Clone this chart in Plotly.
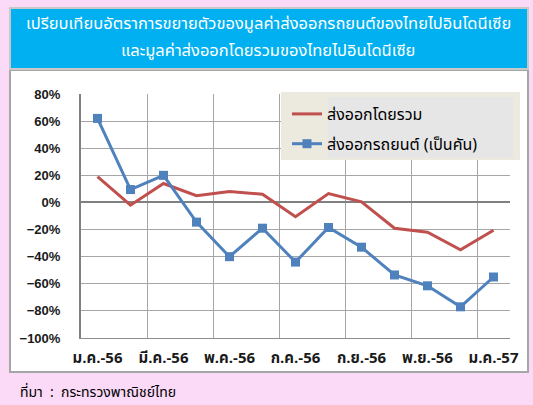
import plotly.graph_objects as go

months = ["ม.ค.-56", "ก.พ.-56", "มี.ค.-56", "เม.ย.-56", "พ.ค.-56", "มิ.ย.-56", "ก.ค.-56",
          "ส.ค.-56", "ก.ย.-56", "ต.ค.-56", "พ.ย.-56", "ธ.ค.-56", "ม.ค.-57"]
total_exports = [19, -2, 14, 5, 8, 6, -10.5, 6.5, 0.5, -19, -22, -35, -20.5]
car_exports = [62, 9.5, 20, -14.5, -40, -19, -44, -18.5, -33, -53.5, -61.5, -77, -55]
label_every = 2

W, H = 533, 405
L, R, T, B = 81, 510, 94, 338

def px(x):
    return (x - L) / (R - L)

def py(y):
    return (B - y) / (B - T)

xs = list(range(len(months)))

fig = go.Figure()
fig.add_trace(go.Scatter(x=xs, y=total_exports, mode="lines", name="ส่งออกโดยรวม",
                         legendgroup="a",
                         line=dict(color="#c0504d", width=3)))
fig.add_trace(go.Scatter(x=xs, y=car_exports, mode="lines+markers", name="ส่งออกรถยนต์ (เป็นคัน)",
                         legendgroup="b",
                         line=dict(color="#4f81bd", width=3),
                         marker=dict(symbol="square", size=9, color="#4f81bd")))

thai_font = "Tahoma, 'Noto Sans Thai', 'Leelawadee UI', sans-serif"

shapes = [
    dict(type="rect", xref="paper", yref="paper", x0=px(10), x1=px(528), y0=py(372), y1=py(70),
         fillcolor="white", line=dict(color="#a6a6a6", width=2), layer="below"),
    dict(type="rect", xref="paper", yref="paper", x0=px(10), x1=px(528), y0=py(69), y1=py(8),
         fillcolor="#00b0f0", line=dict(color="#c8c8c8", width=2), layer="below"),
    dict(type="rect", xref="paper", yref="paper", x0=px(281), x1=px(520), y0=py(160), y1=py(92),
         fillcolor="#ece9df", line=dict(width=0), layer="above"),
    dict(type="rect", xref="paper", yref="paper", x0=px(328), x1=px(513), y0=py(158), y1=py(97),
         fillcolor="#e6e6e6", line=dict(width=0), layer="above"),
]

fig.update_layout(
    width=W, height=H,
    margin=dict(l=L, r=W - R, t=T, b=H - B, pad=0),
    paper_bgcolor="#fbdaf7",
    plot_bgcolor="white",
    showlegend=True,
    legend=dict(x=px(287), y=py(97), xanchor="left", yanchor="top",
                bgcolor="rgba(0,0,0,0)", font=dict(family=thai_font, size=16, color="black"),
                tracegroupgap=6, itemwidth=30),
    shapes=shapes,
    xaxis=dict(
        range=[-0.5, len(months) - 0.5],
        tickmode="array",
        tickvals=xs[::label_every],
        ticktext=["<b>" + m + "</b>" for m in months[::label_every]],
        tickfont=dict(family=thai_font, size=15, color="#1a1a1a"),
        showgrid=False, zeroline=False, ticks="",
        ticklabelstandoff=6,
        showline=True, linecolor="#8c8c8c", linewidth=1,
        minor=dict(tickvals=[i + 1.5 for i in range(0, len(months) - 1, label_every)],
                   showgrid=True, gridcolor="#a6a6a6", gridwidth=1),
        fixedrange=True,
    ),
    yaxis=dict(
        range=[-100, 80], dtick=20, tick0=0, ticksuffix="%",
        tickfont=dict(family="Arial, 'Liberation Sans', sans-serif", size=13, color="#1a1a1a", weight="bold"),
        showgrid=True, gridcolor="#a6a6a6", gridwidth=1,
        zeroline=True, zerolinecolor="#808080", zerolinewidth=2,
        showline=True, linecolor="#808080", linewidth=2,
        ticks="outside", ticklen=0, ticklabelstandoff=16,
        fixedrange=True,
    ),
    annotations=[
        dict(xref="paper", yref="paper", x=px(268), y=py(9), showarrow=False,
             text="เปรียบเทียบอัตราการขยายตัวของมูลค่าส่งออกรถยนต์ของไทยไปอินโดนีเซีย",
             font=dict(family=thai_font, size=16.5, color="white")),
        dict(xref="paper", yref="paper", x=px(268), y=py(36), showarrow=False,
             text="และมูลค่าส่งออกโดยรวมของไทยไปอินโดนีเซีย",
             font=dict(family=thai_font, size=16.5, color="white")),
        dict(xref="paper", yref="paper", x=px(18), y=py(405), xanchor="left", showarrow=False,
             text="ที่มา  :  กระทรวงพาณิชย์ไทย",
             font=dict(family=thai_font, size=14, color="black")),
    ],
)

fig.write_html("out.html", config={"displayModeBar": False},
               post_script="document.body.style.margin='0';document.body.style.background='#fbdaf7';")
